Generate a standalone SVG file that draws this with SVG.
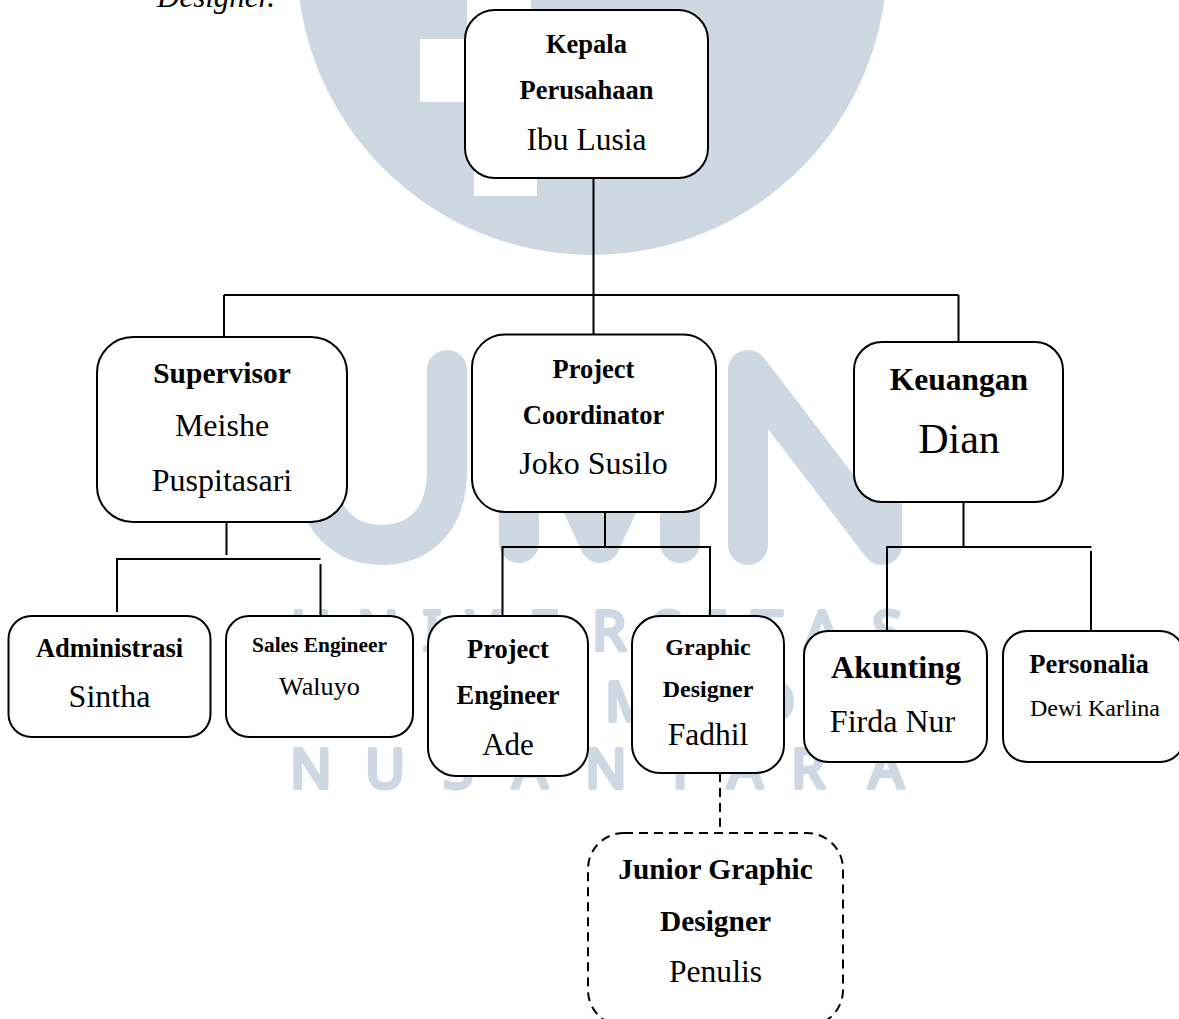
<svg xmlns="http://www.w3.org/2000/svg" width="1179" height="1019" viewBox="0 0 1179 1019">
<style>
.box{fill:#fff;stroke:#000;stroke-width:2}
.dash{stroke-dasharray:9 6}
.con{fill:none;stroke:#000;stroke-width:2}
text{font-family:"Liberation Serif","Times New Roman",serif;fill:#000;text-anchor:middle}
.b{font-weight:700}
.wm{fill:none;stroke:#cdd8e3;stroke-width:40;stroke-linecap:round;stroke-linejoin:round}
.wt{font-family:"Noto Sans",sans-serif;font-size:55px;fill:#cdd8e3;stroke:#cdd8e3;stroke-width:4;stroke-linejoin:round;text-anchor:middle}
</style>
<rect width="1179" height="1019" fill="#fff"/>
<g id="watermark">
<circle cx="592" cy="-40" r="295" fill="#cdd8e3"/>
<rect x="420" y="39" width="63" height="63" fill="#fff"/>
<rect x="467" y="-10" width="64" height="60" fill="#fff"/>
<rect x="474" y="133" width="63" height="63" fill="#fff"/>
<path class="wm" d="M316 370V470C316 525 350 545 381 545C415 545 447 525 447 470V370"/>
<path class="wm" d="M519 543V370L600 543L680 370V543"/>
<path class="wm" d="M748 545V370L882 545V370"/>
<text class="wt" y="650" x="311 378 432 483 544 609 667 717 767 822 887">UNIVERSITAS</text>
<text class="wt" y="721" x="320 385 450 500 555 630 700 775 830 880">MULTIMEDIA</text>
<text class="wt" y="788" x="311 385 458 530 606 680 745 808 886">NUSANTARA</text>
</g>
<text x="216" y="7" font-size="31" font-style="italic">Designer.</text>
<g id="connectors">
<path class="con" d="M593.5 178V334M224 295H958.5M224 295V337M958.5 295V342"/>
<path class="con" d="M226.5 522V555M117 559H320.5M117 558V612M320.5 564V616"/>
<path class="con" d="M605 512V547M502 547H710.5M502.500 546V616M710 546V616"/>
<path class="con" d="M963.500 498V547M887 547H1091.500M887 546V630M1091 551V631"/>
<path class="con dash" d="M720 773V833"/>
</g>
<g id="kepala"><rect class="box" x="465" y="10" width="243" height="168" rx="30"/>
<text class="b" x="586.500" y="53" font-size="26.500">Kepala</text><text class="b" x="586.500" y="99" font-size="26.500">Perusahaan</text><text x="586.500" y="150" font-size="31.500">Ibu Lusia</text></g>
<g id="supervisor"><rect class="box" x="97" y="337" width="250" height="185" rx="36"/>
<text class="b" x="222" y="383" font-size="29.500">Supervisor</text><text x="222" y="436" font-size="32">Meishe</text><text x="222" y="491" font-size="32">Puspitasari</text></g>
<g id="coordinator"><rect class="box" x="472" y="334.500" width="244" height="177.500" rx="33"/>
<text class="b" x="593.500" y="378" font-size="26.500">Project</text><text class="b" x="593.500" y="424" font-size="26.500">Coordinator</text><text x="593.500" y="474" font-size="32">Joko Susilo</text></g>
<g id="keuangan"><rect class="box" x="854" y="342" width="209" height="160" rx="28"/>
<text class="b" x="959" y="390" font-size="31.500">Keuangan</text><text x="959" y="453" font-size="42">Dian</text></g>
<g id="administrasi"><rect class="box" x="8.500" y="616" width="202" height="121" rx="23"/>
<text class="b" x="109.500" y="657" font-size="26.500">Administrasi</text><text x="109.500" y="707" font-size="32">Sintha</text></g>
<g id="sales"><rect class="box" x="226" y="616" width="187" height="121" rx="23"/>
<text class="b" x="319.500" y="652" font-size="21.400">Sales Engineer</text><text x="319.500" y="695" font-size="26.200">Waluyo</text></g>
<g id="project-engineer"><rect class="box" x="428" y="616" width="160" height="160" rx="28"/>
<text class="b" x="508" y="658" font-size="26.500">Project</text><text class="b" x="508" y="704" font-size="26.500">Engineer</text><text x="508" y="755" font-size="31">Ade</text></g>
<g id="graphic"><rect class="box" x="632" y="616" width="152" height="157" rx="28"/>
<text class="b" x="708" y="655" font-size="24">Graphic</text><text class="b" x="708" y="697" font-size="24">Designer</text><text x="708" y="745" font-size="31.500">Fadhil</text></g>
<g id="akunting"><rect class="box" x="804" y="631" width="183" height="131" rx="24"/>
<text class="b" x="896" y="678" font-size="32">Akunting</text><text x="892.500" y="732" font-size="32">Firda Nur</text></g>
<g id="personalia"><rect class="box" x="1003" y="631" width="181" height="131" rx="24"/>
<text class="b" x="1089" y="673" font-size="26.600">Personalia</text><text x="1095" y="716" font-size="24">Dewi Karlina</text></g>
<g id="junior"><rect class="box dash" x="588" y="833" width="255" height="193" rx="36"/>
<text class="b" x="715.500" y="879" font-size="29.400">Junior Graphic</text><text class="b" x="715.500" y="931" font-size="29.400">Designer</text><text x="715.500" y="982" font-size="31.600">Penulis</text></g>
</svg>
